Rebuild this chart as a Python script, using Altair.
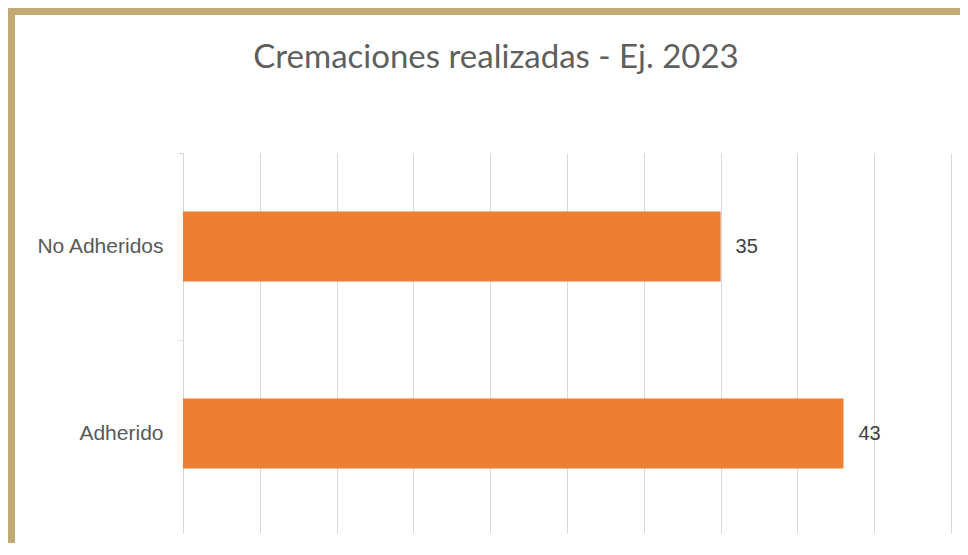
import altair as alt
import pandas as pd

categories = ["No Adheridos", "Adherido"]
values = [35, 43]
title_text = "Cremaciones realizadas - Ej. 2023"

df = pd.DataFrame({"cat": categories, "val": values})

BORDER = "#C5A975"
GRID = "#D9D9D9"

base = alt.Chart(df)

bars = base.mark_bar(color="#ED7D31").encode(
    y=alt.Y("cat:N", sort=None, title=None,
            scale=alt.Scale(paddingInner=0.626, paddingOuter=0.313),
            axis=alt.Axis(labelFont="Liberation Sans", labelFontSize=21,
                          labelColor="#595959", domain=True, domainColor=GRID,
                          ticks=True, tickColor=GRID, tickSize=5,
                          tickOffset=-93.5, labelOffset=93.5,
                          labelPadding=15, grid=False)),
    x=alt.X("val:Q", title=None,
            scale=alt.Scale(domain=[0, 50], nice=False),
            axis=alt.Axis(values=list(range(0, 55, 5)), labels=False,
                          domain=False, grid=True, gridColor=GRID,
                          ticks=True, tickColor=GRID, tickSize=6)),
)

labels = base.mark_text(align="left", baseline="middle", dx=15,
                        font="Liberation Sans", fontSize=20,
                        color="#404040").encode(
    y=alt.Y("cat:N", sort=None),
    x=alt.X("val:Q"),
    text=alt.Text("val:Q"),
)

left_border = base.mark_rule(color=BORDER, strokeWidth=8).encode(
    x=alt.value(-172), y=alt.value(-145), y2=alt.value(392)
)
top_border = base.mark_rule(color=BORDER, strokeWidth=7).encode(
    x=alt.value(-176), x2=alt.value(790), y=alt.value(-141.5)
)

chart = alt.layer(left_border, top_border, bars, labels).properties(
    width=768,
    height=374,
    autosize=alt.AutoSizeParams(type="none"),
    padding={"left": 175, "top": 145, "right": 9, "bottom": 16},
    background="white",
    title=alt.Title(title_text, font="Lato", fontSize=33, fontWeight="normal",
                    color="#5F5F5F", anchor="middle", frame="group",
                    dx=-71, offset=-71),
).configure_view(stroke=None)

chart.save("out.html", embed_options={"renderer": "svg", "actions": False})
